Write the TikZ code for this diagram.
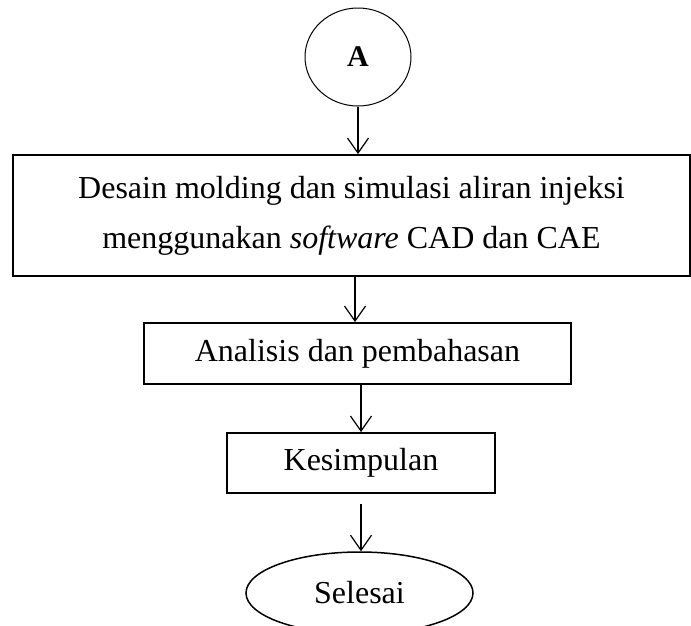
\documentclass[tikz,border=0pt]{standalone}
\usepackage{fontspec}
\setmainfont{Liberation Serif}
\usetikzlibrary{arrows.meta,shapes.geometric}

\begin{document}
\begin{tikzpicture}[x=1pt,y=-1pt,
    kotak/.style={draw,line width=1.8pt,inner sep=0pt,font=\fontsize{32}{50}\selectfont},
    panah/.style={-{Straight Barb[length=15pt,width=21pt,line width=1.2pt]},line width=1.3pt}]
            \useasboundingbox (0,0) rectangle (691,625);

            \node (a) at (358,57) [ellipse,draw,line width=1pt,minimum width=106pt,minimum height=98pt,font=\fontsize{30}{34}\selectfont\bfseries] {A};
            \node (desain) at (351.5,215.5) [kotak,minimum width=677pt,minimum height=121pt,align=center] {Desain molding dan simulasi aliran injeksi\\menggunakan \textit{software} CAD dan CAE};
            \node (analisis) at (357.5,353.5) [kotak,minimum width=427pt,minimum height=61pt] {Analisis dan pembahasan};
            \node (kesimpulan) at (361,463) [kotak,minimum width=268pt,minimum height=60pt] {Kesimpulan};
            \node (selesai) at (359.5,593) [ellipse,kotak,line width=1.5pt,minimum width=227pt,minimum height=82pt] {Selesai};

            \draw[panah] (a.south) -- (a.south |- desain.north);
            \draw[panah] (355,0 |- desain.south) -- (355,0 |- analisis.north);
            \draw[panah] (361,0 |- analisis.south) -- (361,0 |- kesimpulan.north);
            \draw[panah,shorten <=10pt] (kesimpulan.south) -- (kesimpulan.south |- selesai.north);

        		\end{tikzpicture}
\end{document}
